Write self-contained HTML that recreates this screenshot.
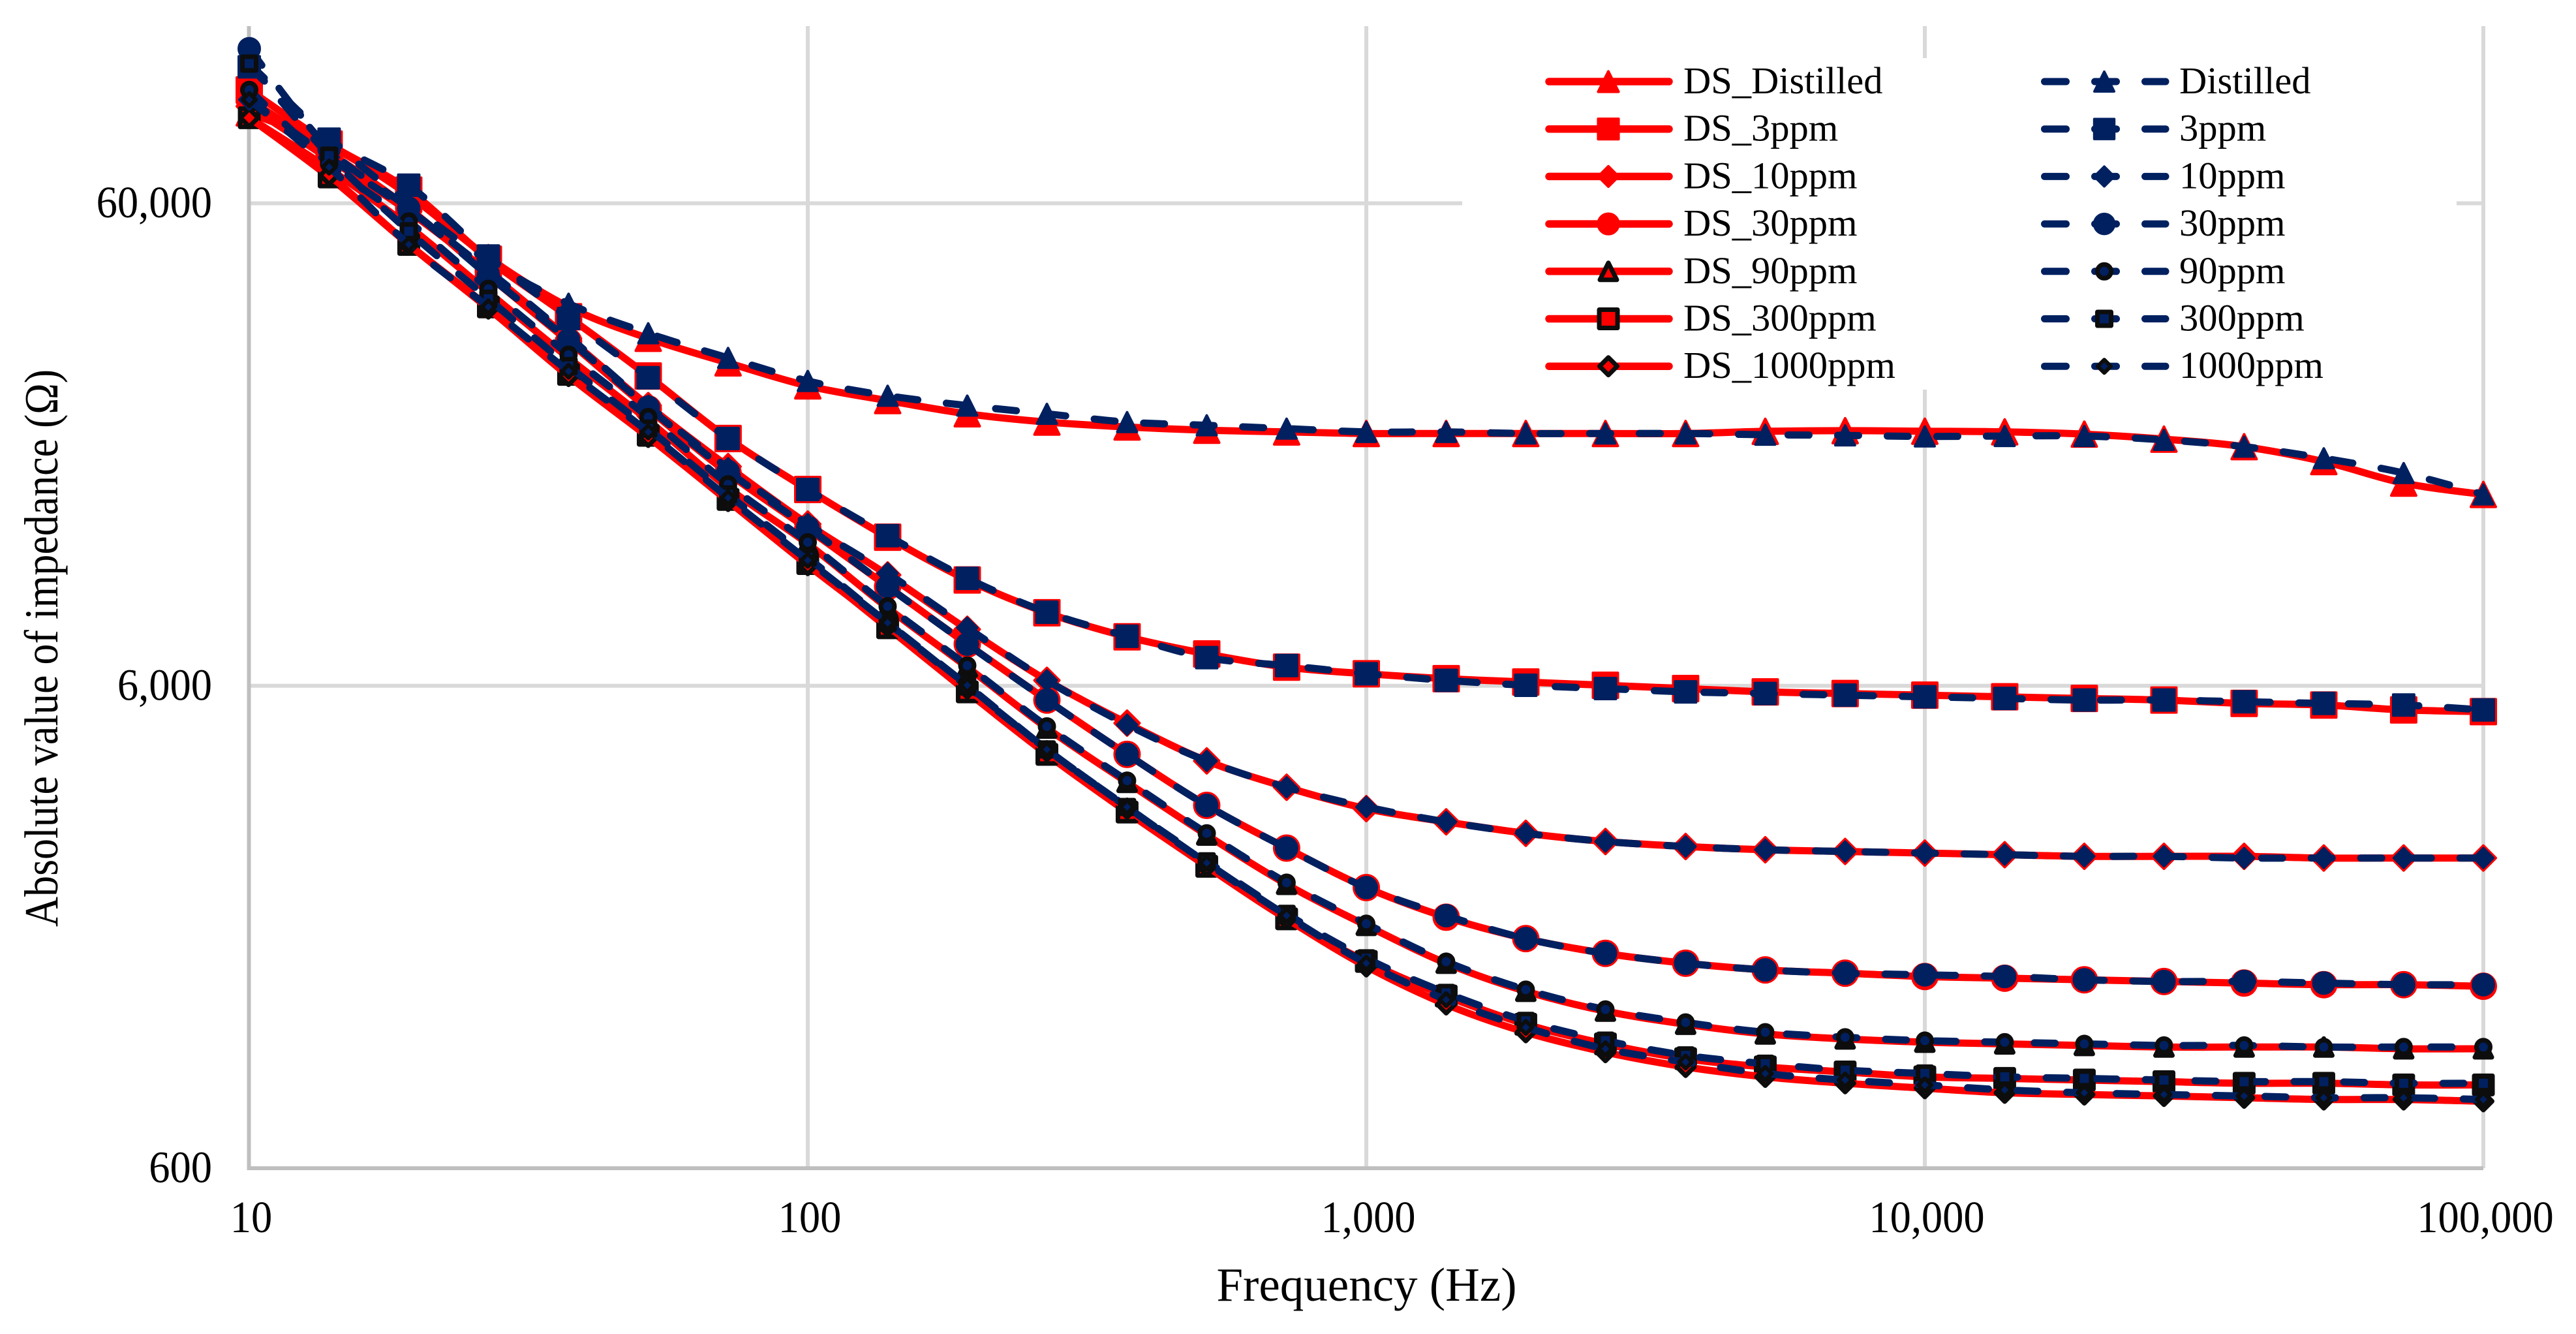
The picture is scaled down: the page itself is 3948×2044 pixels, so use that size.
<!DOCTYPE html>
<html lang="en">
<head>
<meta charset="utf-8">
<title>Impedance vs frequency</title>
<style>
html,body{margin:0;padding:0;background:#fff;width:3948px;height:2044px;overflow:hidden}
svg{display:block}
text{font-family:"Liberation Serif","DejaVu Serif",serif;fill:#000}
</style>
</head>
<body>
<svg id="chart" xmlns="http://www.w3.org/2000/svg" width="3948" height="2044" viewBox="0 0 3948 2044"></svg>
<script>
const frequencies = [10,13.9,19.3,26.8,37.3,51.8,72,100,139,193,268,373,518,720,1000,1390,1930,2680,3730,5180,7200,10000,13900,19300,26800,37300,51800,72000,100000];
const xTickValues = [10,100,1000,10000,100000];
const yTickValues = [600,6000,60000];

const dsDistilled = [92400,78970,62400,46300,36600,31500,28020,25100,23400,21970,21120,20630,20310,20150,20000,20000,20000,20000,20000,20210,20270,20220,20160,19940,19470,18780,17490,15780,14950];
const ds3ppm = [103100,79600,63890,45940,34910,26310,19530,15310,12190,9943,8500,7580,6985,6556,6354,6206,6109,6014,5920,5828,5782,5737,5692,5648,5604,5516,5473,5346,5304];
const ds10ppm = [95350,74160,57690,43150,31500,22850,17080,12980,10180,7854,6157,5020,4192,3696,3338,3134,2967,2853,2786,2743,2721,2700,2679,2658,2658,2658,2637,2637,2637];
const ds30ppm = [98400,76530,58600,42480,31030,22490,16550,12680,9634,7318,5604,4325,3390,2765,2290,1988,1795,1673,1596,1546,1522,1498,1486,1475,1463,1452,1441,1441,1430];
const ds90ppm = [90250,70750,53750,39260,28690,21290,15430,11810,8698,6556,4903,3784,2943,2326,1912,1596,1396,1270,1193,1139,1112,1095,1086,1078,1070,1070,1070,1061,1061];
const ds300ppm = [90250,68030,49310,36600,26520,19830,14600,10750,7915,5828,4325,3284,2535,1973,1610,1365,1193,1086,1012,973,950,928,921,914,907,900,900,893,893];
const ds1000ppm = [90250,68580,49310,36310,26310,19670,14490,10670,7978,5920,4390,3338,2535,1973,1572,1311,1148,1044,973,928,900,879,860,853,847,840,833,833,826];

const distilled = [116900,81480,60000,45580,37160,32270,28690,25700,23950,22850,21970,21120,20800,20470,20150,20150,20000,20000,20000,19880,19820,19720,19760,19760,19400,18780,17770,16560,14950];
const ppm3 = [115100,81480,65410,46660,34630,26100,19530,15310,12280,10020,8520,7600,6862,6607,6354,6157,6014,5920,5828,5782,5737,5692,5648,5604,5604,5560,5516,5473,5346];
const ppm10 = [98400,74740,58140,43480,31770,22850,16950,12980,10260,7915,6157,4981,4192,3696,3364,3134,2967,2853,2786,2743,2721,2700,2679,2658,2658,2637,2637,2637,2637];
const ppm30 = [125500,77740,58600,42480,31270,22670,16690,12780,9634,7318,5604,4325,3390,2765,2290,2003,1795,1673,1596,1546,1522,1510,1498,1475,1463,1463,1452,1441,1441];
const ppm90 = [103100,72430,55030,39890,29130,21630,15690,11900,8766,6607,4942,3815,2967,2344,1927,1608,1407,1280,1203,1148,1121,1103,1095,1086,1078,1078,1070,1070,1070];
const ppm300 = [116900,75330,52500,38050,27590,20470,14950,11070,8104,5980,4428,3364,2596,2020,1634,1385,1212,1103,1028,988,958,943,928,921,914,907,907,900,900];
const ppm1000 = [98400,71310,49310,36600,26920,20150,14720,10920,8104,6014,4428,3364,2577,2004,1596,1341,1175,1061,996,943,914,893,872,860,853,847,840,840,833];

const RED = '#ff0000', NAVY = '#002060', BLACK = '#0d0d0d';
const seriesList = [
  {label:'DS_Distilled', slug:'ds-distilled', values:dsDistilled, dash:false, shape:'tri', size:38, fill:RED, edge:RED, edgeW:4, legendScale:.82},
  {label:'DS_3ppm', slug:'ds-3ppm', values:ds3ppm, dash:false, shape:'sq', size:38, fill:RED, edge:RED, edgeW:4, legendScale:.82},
  {label:'DS_10ppm', slug:'ds-10ppm', values:ds10ppm, dash:false, shape:'dia', size:38, fill:RED, edge:RED, edgeW:4, legendScale:.82},
  {label:'DS_30ppm', slug:'ds-30ppm', values:ds30ppm, dash:false, shape:'cir', size:38, fill:RED, edge:RED, edgeW:4, legendScale:.82},
  {label:'DS_90ppm', slug:'ds-90ppm', values:ds90ppm, dash:false, shape:'tri', size:26, fill:RED, edge:BLACK, edgeW:7, legendScale:1},
  {label:'DS_300ppm', slug:'ds-300ppm', values:ds300ppm, dash:false, shape:'sq', size:28, fill:RED, edge:BLACK, edgeW:7, legendScale:1},
  {label:'DS_1000ppm', slug:'ds-1000ppm', values:ds1000ppm, dash:false, shape:'dia', size:27, fill:RED, edge:BLACK, edgeW:7, legendScale:1},
  {label:'Distilled', slug:'distilled', values:distilled, dash:true, shape:'tri', size:30, fill:NAVY, edge:NAVY, edgeW:4, legendScale:1},
  {label:'3ppm', slug:'3ppm', values:ppm3, dash:true, shape:'sq', size:32, fill:NAVY, edge:NAVY, edgeW:4, legendScale:.95},
  {label:'10ppm', slug:'10ppm', values:ppm10, dash:true, shape:'dia', size:30, fill:NAVY, edge:NAVY, edgeW:4, legendScale:1},
  {label:'30ppm', slug:'30ppm', values:ppm30, dash:true, shape:'cir', size:32, fill:NAVY, edge:NAVY, edgeW:4, legendScale:.95},
  {label:'90ppm', slug:'90ppm', values:ppm90, dash:true, shape:'cir', size:21, fill:NAVY, edge:BLACK, edgeW:7, legendScale:1},
  {label:'300ppm', slug:'300ppm', values:ppm300, dash:true, shape:'sq', size:21, fill:NAVY, edge:BLACK, edgeW:7, legendScale:1},
  {label:'1000ppm', slug:'1000ppm', values:ppm1000, dash:true, shape:'dia', size:20, fill:NAVY, edge:BLACK, edgeW:6, legendScale:1}
];

const NS = 'http://www.w3.org/2000/svg';
const svg = document.getElementById('chart');
const plotLeft = 382, plotRight = 3806, plotTop = 40, plotBottom = 1790;
const xMin = 10, xMax = 100000, yMin = 600, yMax = 60000, y60k = 311.5;

function xScale(v){ return plotLeft + (Math.log10(v) - Math.log10(xMin)) / (Math.log10(xMax) - Math.log10(xMin)) * (plotRight - plotLeft); }
function yScale(v){ return plotBottom - (Math.log10(v) - Math.log10(yMin)) / (Math.log10(yMax) - Math.log10(yMin)) * (plotBottom - y60k); }

function make(tag, parent){
  const el = document.createElementNS(NS, tag);
  parent.appendChild(el);
  return el;
}
function setAll(el, attrs){ for (const k in attrs) el.setAttribute(k, attrs[k]); }

function smoothPath(pts){
  let d = 'M' + pts[0][0].toFixed(1) + ',' + pts[0][1].toFixed(1);
  for (let i = 0; i < pts.length - 1; i++){
    const p0 = pts[Math.max(i - 1, 0)], p1 = pts[i], p2 = pts[i + 1], p3 = pts[Math.min(i + 2, pts.length - 1)];
    const c1x = p1[0] + (p2[0] - p0[0]) / 6, c1y = p1[1] + (p2[1] - p0[1]) / 6;
    const c2x = p2[0] - (p3[0] - p1[0]) / 6, c2y = p2[1] - (p3[1] - p1[1]) / 6;
    d += 'C' + c1x.toFixed(1) + ',' + c1y.toFixed(1) + ' ' + c2x.toFixed(1) + ',' + c2y.toFixed(1) + ' ' + p2[0].toFixed(1) + ',' + p2[1].toFixed(1);
  }
  return d;
}

function markerPath(shape, s, cx, cy){
  const h = s / 2;
  if (shape === 'tri') return 'M' + cx + ',' + (cy - h) + 'L' + (cx + h) + ',' + (cy + h) + 'L' + (cx - h) + ',' + (cy + h) + 'Z';
  if (shape === 'sq') return 'M' + (cx - h) + ',' + (cy - h) + 'H' + (cx + h) + 'V' + (cy + h) + 'H' + (cx - h) + 'Z';
  if (shape === 'dia') return 'M' + cx + ',' + (cy - h) + 'L' + (cx + h) + ',' + cy + 'L' + cx + ',' + (cy + h) + 'L' + (cx - h) + ',' + cy + 'Z';
  return 'M' + (cx - h) + ',' + cy + 'A' + h + ',' + h + ' 0 1 0 ' + (cx + h) + ',' + cy + 'A' + h + ',' + h + ' 0 1 0 ' + (cx - h) + ',' + cy + 'Z';
}

function drawMarker(parent, st, cx, cy, scale){
  const m = make('path', parent);
  
  
  setAll(m, {d: markerPath(st.shape, st.size * scale, cx, cy), fill: st.fill, stroke: st.edge, 'stroke-width': st.edgeW, 'stroke-linejoin': 'round'});
}

function fmt(v){ return String(v).replace(/\B(?=(\d{3})+(?!\d))/g, ','); }

/* background */
const bg = make('rect', svg);


setAll(bg, {x: 0, y: 0, width: 3948, height: 2044, fill: '#ffffff'});

/* gridlines */
const gridGroup = make('g', svg);


yTickValues.slice(1).forEach(function(v){
  const g = make('line', gridGroup);
  
  
  setAll(g, {x1: plotLeft, x2: plotRight, y1: yScale(v), y2: yScale(v), stroke: '#d9d9d9', 'stroke-width': 6});
});
xTickValues.slice(1).forEach(function(v){
  const g = make('line', gridGroup);
  
  
  setAll(g, {x1: xScale(v), x2: xScale(v), y1: plotTop, y2: plotBottom, stroke: '#d9d9d9', 'stroke-width': 6});
});

/* legend background hides the gridlines behind it */
const legendBg = make('rect', svg);


setAll(legendBg, {x: 2241, y: 89, width: 1524, height: 508, fill: '#ffffff'});

/* axes */
const yAxis = make('line', svg);


setAll(yAxis, {x1: plotLeft - 0.5, x2: plotLeft - 0.5, y1: plotTop, y2: plotBottom + 3, stroke: '#bfbfbf', 'stroke-width': 6});
const xAxis = make('line', svg);


setAll(xAxis, {x1: plotLeft, x2: plotRight, y1: plotBottom, y2: plotBottom, stroke: '#bfbfbf', 'stroke-width': 6});

/* tick labels */
yTickValues.forEach(function(v){
  const t = make('text', svg);
  
  
  setAll(t, {transform: 'translate(325,' + (yScale(v) + 21.6) + ') scale(1,1.07)', 'text-anchor': 'end', 'font-size': 64.5});
  t.textContent = fmt(v);
});
xTickValues.forEach(function(v){
  const t = make('text', svg);
  
  
  setAll(t, {transform: 'translate(' + (xScale(v) + 3) + ',1888) scale(1,1.07)', 'text-anchor': 'middle', 'font-size': 64.5});
  t.textContent = fmt(v);
});

/* axis titles */
const xTitle = make('text', svg);


setAll(xTitle, {x: 2094.5, y: 1993, 'text-anchor': 'middle', 'font-size': 73});
xTitle.textContent = 'Frequency (Hz)';
const yTitle = make('text', svg);


setAll(yTitle, {transform: 'translate(88,993) rotate(-90) scale(1,1.144)', 'text-anchor': 'middle', 'font-size': 64});
yTitle.textContent = 'Absolute value of impedance (\u03A9)';

/* series: red solid curves first, navy dashed on top */
seriesList.forEach(function(st){
  const g = make('g', svg);
  
  
  const pts = st.values.map(function(v, i){ return [xScale(frequencies[i]), yScale(v)]; });
  const line = make('path', g);
  
  
  setAll(line, {d: smoothPath(pts), fill: 'none', stroke: st.dash ? NAVY : RED, 'stroke-width': 11, 'stroke-linecap': 'round', 'stroke-linejoin': 'round'});
  if (st.dash) line.setAttribute('stroke-dasharray', '32 44');
  pts.forEach(function(p){ drawMarker(g, st, p[0], p[1], 1); });
});

/* legend */
const legendGroup = make('g', svg);


seriesList.forEach(function(st, idx){
  const row = idx % 7, secondCol = idx >= 7;
  const cy = 125 + row * 72.7;
  const g = make('g', legendGroup);
  
  
  if (secondCol){
    [[3133.5, 3166.5], [3210.5, 3243.5], [3287.5, 3319]].forEach(function(seg){
      const d = make('line', g);
      
      
      setAll(d, {x1: seg[0], x2: seg[1], y1: cy, y2: cy, stroke: NAVY, 'stroke-width': 11, 'stroke-linecap': 'round'});
    });
    drawMarker(g, st, 3225, cy, st.legendScale);
  } else {
    const l = make('line', g);
    
    
    setAll(l, {x1: 2374, x2: 2558, y1: cy, y2: cy, stroke: RED, 'stroke-width': 11.5, 'stroke-linecap': 'round'});
    drawMarker(g, st, 2465, cy, st.legendScale);
  }
  const t = make('text', g);
  
  
  setAll(t, {x: secondCol ? 3340 : 2580, y: cy + 18, 'font-size': 58.5});
  t.textContent = st.label;
});
</script>
</body>
</html>
